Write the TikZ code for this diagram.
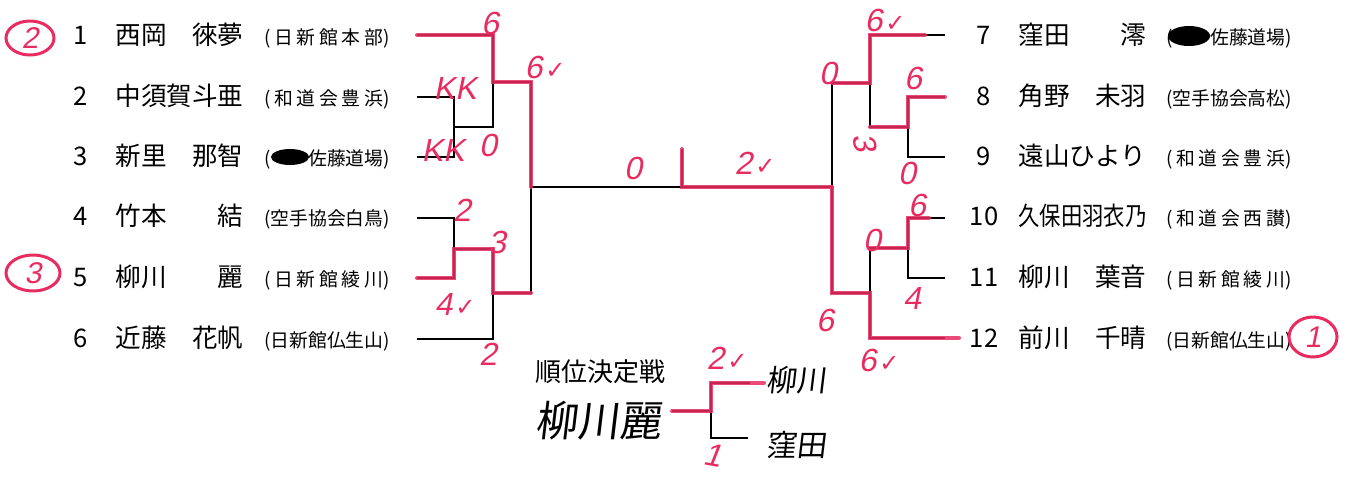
\documentclass[tikz,border=0pt]{standalone}
\usepackage{fontspec}
\usepackage{graphicx}
\usepackage{xcolor}
\usepackage{tikz}
\usetikzlibrary{shapes.geometric}
\setmainfont{Noto Sans CJK JP}
\newfontfamily\penfont{Liberation Sans}[FakeSlant=0.2]
\newfontfamily\handfont{Noto Sans CJK JP}[FakeSlant=0.12]
\newfontfamily\symfont{DejaVu Sans}
\definecolor{pen}{RGB}{232,44,96}
\newcommand{\nm}{\fontsize{12.8}{14}\selectfont}
\newcommand{\af}{\fontsize{9.4}{11}\selectfont}
\newcommand{\ok}{\kern1.5pt{\symfont\fontsize{12}{13}\selectfont ✓}}
\newcommand{\spread}[1]{\makebox[62.5pt][s]{#1}}
\tikzset{num/.style={font=\nm, inner sep=0pt, text height=0.88em, text depth=0.12em},
pname/.style={font=\nm, anchor=west, inner sep=0pt, text height=0.88em, text depth=0.12em},
club/.style={font=\af, anchor=west, inner sep=0pt, text height=0.88em, text depth=0.12em},
bk/.style={line width=0.6pt},
win/.style={draw=pen, line width=2pt, opacity=0.85, line cap=round, shift={(-1,2)}},
score/.style={text=pen, font={\penfont\fontsize{16}{17}\selectfont}, inner sep=0pt},
ring/.style={draw=pen, text=pen, ellipse, line width=1.5pt, inner sep=0pt, minimum width=24pt, minimum height=17pt, font={\penfont\fontsize{15}{16}\selectfont}},
hand/.style={inner sep=0pt, font={\handfont\fontsize{21}{22}\selectfont}}}

\begin{document}
\begin{tikzpicture}[x=0.5pt,y=-0.5pt]
   \useasboundingbox (0,0) rectangle (1353,478);
   % left block
   \node[num]  (n1) at (81,37)  {1};
   \node[pname] (m1) at (115,37) {西岡　徠夢};
   \node[club] (k1) at (264,37) {\spread{(\hfill 日\hfill 新\hfill 館\hfill 本\hfill 部)}};
   \node[num]  (n2) at (81,98)  {2};
   \node[pname] (m2) at (115,98) {中須賀斗亜};
   \node[club] (k2) at (264,98) {\spread{(\hfill 和\hfill 道\hfill 会\hfill 豊\hfill 浜)}};
   \node[num]  (n3) at (81,158)  {3};
   \node[pname] (m3) at (115,158) {新里　那智};
   \node[club] (k3) at (264,158) {(\phantom{空手}佐藤道場)};
   \node[num]  (n4) at (81,218)  {4};
   \node[pname] (m4) at (115,218) {竹本　　結};
   \node[club] (k4) at (264,218) {(空手協会白鳥)};
   \node[num]  (n5) at (81,279)  {5};
   \node[pname] (m5) at (115,279) {柳川　　麗};
   \node[club] (k5) at (264,279) {\spread{(\hfill 日\hfill 新\hfill 館\hfill 綾\hfill 川)}};
   \node[num]  (n6) at (81,340)  {6};
   \node[pname] (m6) at (115,340) {近藤　花帆};
   \node[club] (k6) at (264,340) {(日新館仏生山)};
   % right block
   \node[num]  (n7) at (984,37)   {7};
   \node[pname] (m7) at (1018,37)  {窪田　　澪};
   \node[club] (k7) at (1166,37)  {(\phantom{空手}佐藤道場)};
   \node[num]  (n8) at (984,98)   {8};
   \node[pname] (m8) at (1018,98)  {角野　未羽};
   \node[club] (k8) at (1166,98)  {(空手協会高松)};
   \node[num]  (n9) at (984,158)  {9};
   \node[pname] (m9) at (1018,158) {遠山ひより};
   \node[club] (k9) at (1166,158) {\spread{(\hfill 和\hfill 道\hfill 会\hfill 豊\hfill 浜)}};
   \node[num]  (n10) at (984,218)  {10};
   \node[pname] (m10) at (1018,218) {\scalebox{0.833}[1]{久保田羽衣乃}};
   \node[club] (k10) at (1166,218) {\spread{(\hfill 和\hfill 道\hfill 会\hfill 西\hfill 讃)}};
   \node[num]  (n11) at (984,279)  {11};
   \node[pname] (m11) at (1018,279) {柳川　葉音};
   \node[club] (k11) at (1166,279) {\spread{(\hfill 日\hfill 新\hfill 館\hfill 綾\hfill 川)}};
   \node[num]  (n12) at (984,340)  {12};
   \node[pname] (m12) at (1018,340) {前川　千晴};
   \node[club] (k12) at (1166,340) {(日新館仏生山)};
   % blacked out club names
   \fill (290,157) ellipse [x radius=19, y radius=8];
   \fill (1189,36) ellipse [x radius=21, y radius=10];
   % bracket points
   \coordinate (p1) at (417,35);  \coordinate (p2) at (417,97);  \coordinate (p3) at (417,157);
   \coordinate (p4) at (417,218); \coordinate (p5) at (417,278); \coordinate (p6) at (417,339);
   \coordinate (p7) at (945,35);  \coordinate (p8) at (945,97);  \coordinate (p9) at (945,157);
   \coordinate (p10) at (945,218); \coordinate (p11) at (945,278); \coordinate (p12) at (945,338);
   \coordinate (j23) at (454,127); \coordinate (j45) at (454,249);
   \coordinate (j89) at (908,127); \coordinate (j1011) at (908,248);
   \coordinate (a1) at (493,82);  \coordinate (a2) at (493,293);
   \coordinate (b1) at (870,83);  \coordinate (b2) at (870,293);
   \coordinate (s1) at (531,187); \coordinate (s2) at (832,187);
   \coordinate (f0) at (682,149); \coordinate (f1) at (682,187);
   % bracket lines
   \draw[bk] (p2) -| (j23) |- (p3);
   \draw[bk] (p4) -| (j45) |- (p5);
   \draw[bk] (p1) -| (a1);  \draw[bk] (j23) -| (a1);
   \draw[bk] (p6) -| (a2);  \draw[bk] (j45) -| (a2);
   \draw[bk] (a1) -| (s1);  \draw[bk] (a2) -| (s1);
   \draw[bk] (p8) -| (j89) |- (p9);
   \draw[bk] (p10) -| (j1011) |- (p11);
   \draw[bk] (p7) -| (b1);  \draw[bk] (j89) -| (b1);
   \draw[bk] (p12) -| (b2); \draw[bk] (j1011) -| (b2);
   \draw[bk] (b1) -| (s2);  \draw[bk] (b2) -| (s2);
   \draw[bk] (s1) -- (s2);
   \draw[bk] (f0) -- (f1);
   % red pen over the winners
   \draw[win] (p1) -| (a1) -| (s1);
   \draw[win] (p5) -| (j45) -| (a2) -- (a2 -| s1);
   \draw[win] (f0) -- (f1) -- (s2);
   \draw[win] (s2) |- (b2) |- ([xshift=7]p12);
   \draw[win] ([xshift=-10]p7) -| (b1) -- (b1 -| s2);
   \draw[win] (p8) -| (j89) -- (j89 -| b1);
   \draw[win] ([xshift=-8]p10) -| (j1011) -- (j1011 -| b2);
   % scores
   \node[score] (t1) at (490,23) {6};
   \node[score] (t2) at (545,67) {6\ok};
   \node[score] (t3) at (455,88) {KK};
   \node[score] (t4) at (443,150) {KK};
   \node[score] (t5) at (488,145) {0};
   \node[score] (t6) at (462,210) {2};
   \node[score] (t7) at (497,242) {3};
   \node[score] (t8) at (455,304) {4\ok};
   \node[score] (t9) at (488,354) {2};
   \node[score] (t10) at (633,168) {0};
   \node[score] (t11) at (755,163) {2\ok};
   \node[score] (t12) at (885,20) {6\ok};
   \node[score] (t13) at (828,73) {0};
   \node[score] (t14) at (913,78) {6};
   \node[score, rotate=-80] (t15) at (865,142) {3};
   \node[score] (t16) at (907,173) {0};
   \node[score] (t17) at (917,205) {6};
   \node[score] (t18) at (872,240) {0};
   \node[score] (t19) at (912,298) {4};
   \node[score] (t20) at (825,320) {6};
   \node[score] (t21) at (879,360) {6\ok};
   % places
   \node[ring] (r2) at (30,38) {2};
   \node[ring, minimum width=27pt, minimum height=18pt] (r3) at (33,273) {3};
   \node[ring, minimum height=20pt] (r1) at (1313,337) {1};
   % play-off
   \node[font=\fontsize{13}{14}\selectfont, inner sep=0pt] (po) at (600,372) {順位決定戦};
   \node[hand] (h0) at (598,421) {柳川麗};
   \node[hand, font={\handfont\fontsize{15}{16}\selectfont}] (h1) at (796,380) {柳川};
   \node[hand, font={\handfont\fontsize{15}{16}\selectfont}] (h2) at (796,445) {窪田};
   \coordinate (q0) at (672,411); \coordinate (q1) at (711,411);
   \coordinate (q2) at (750,383); \coordinate (q3) at (748,438);
   \draw[bk] (q0) -- (q1) |- (q2);
   \draw[bk] (q1) |- (q3);
   \draw[win] (q0) -- (q1) |- ([xshift=7]q2);
   \node[score] (t22) at (727,358) {2\ok};
   \node[score, rotate=-10] (t23) at (713,455) {1};
\end{tikzpicture}
\end{document}
